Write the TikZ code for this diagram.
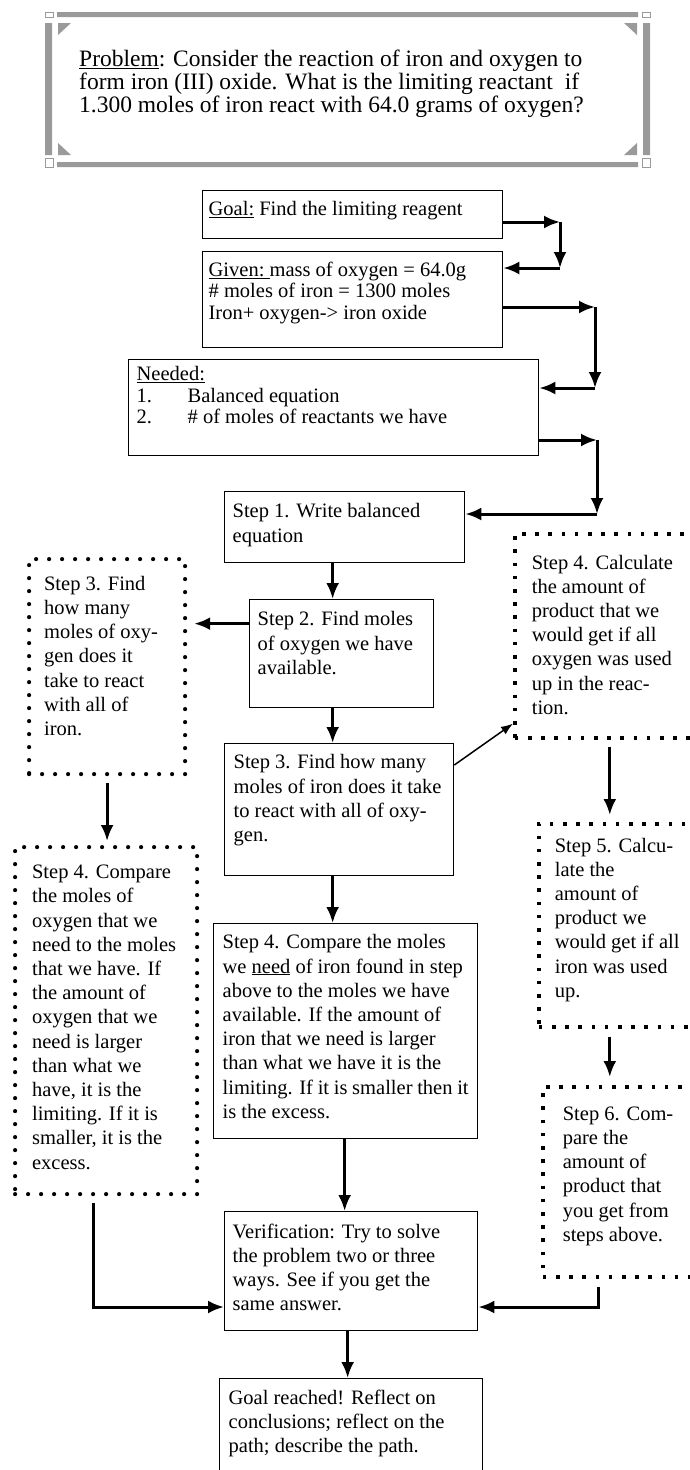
\documentclass[tikz,border=0pt]{standalone}
\usepackage{fontspec}
\setmainfont{Liberation Serif}
\usetikzlibrary{arrows.meta}
\definecolor{framegray}{HTML}{9A9A9A}
\newcommand{\cellbox}[4]{\parbox[t][#2pt][t]{#1pt}{\vspace*{#3pt}\raggedright#4}}

\begin{document}
\begin{tikzpicture}[x=1pt,y=-1pt,>={Latex[length=16pt,width=13pt]},
  every node/.style={font=\fontsize{20.5}{24.2}\selectfont},
  plainbox/.style={draw,line width=1.3pt,anchor=north west,inner xsep=8pt,inner ysep=0pt},
  topbox/.style={plainbox,inner xsep=6pt,font=\fontsize{20.5}{21.5}\selectfont},
  roundbox/.style={draw,line width=4.2pt,dash pattern=on 0pt off 13pt,line cap=round,anchor=north west,inner ysep=0pt},
  squarebox/.style={draw,line width=3.6pt,dash pattern=on 3.6pt off 9.6pt,anchor=north west,inner ysep=0pt},
  conn/.style={->,line width=3pt},
  thinconn/.style={-{Latex[length=12pt,width=9pt]},line width=1.5pt}]
\useasboundingbox (0,0) rectangle (690,1470);
\clip (0,0) rectangle (690,1470);

% problem frame
\fill[framegray] (57,12) rectangle (638,17) (57,162) rectangle (638,167) (45,23) rectangle (52,155) (643,23) rectangle (650,155);
\fill[framegray] (58,23) -- (71,23) -- (58,35) -- cycle (637,23) -- (624,23) -- (637,35) -- cycle
  (58,155) -- (71,155) -- (58,143) -- cycle (637,155) -- (624,155) -- (637,143) -- cycle;
\draw[framegray,line width=1pt] (45,12) rectangle (53,17) (642,12) rectangle (650,17) (45,158) rectangle (53,167) (642,158) rectangle (650,167);
\node[anchor=north west,inner sep=0pt,font=\fontsize{23.5}{23}\selectfont] (problem) at (79,50) {\cellbox{570}{100}{0}{\underline{Problem}: Consider the reaction of iron and oxygen to\\form iron (III) oxide. What is the limiting reactant\ \ if\\1.300 moles of iron react with 64.0 grams of oxygen?}};

% goal, given, needed
\node[topbox] (goal) at (202,190) {\cellbox{288}{48}{11}{\underline{Goal:} Find the limiting reagent}};
\node[topbox] (given) at (202,251) {\cellbox{288}{96}{10}{\underline{Given:\ }mass of oxygen = 64.0g\\\# moles of iron = 1300 moles\\Iron+ oxygen-> iron oxide}};
\node[topbox,inner xsep=8pt] (needed) at (128,359) {\cellbox{394}{96}{7}{\underline{Needed:}\\\makebox[51pt][l]{1.}Balanced equation\\\makebox[51pt][l]{2.}\# of moles of reactants we have}};

% middle column
\node[plainbox] (step1) at (224,491) {\cellbox{224}{71}{12}{Step 1. Write balanced\\equation}};
\node[plainbox] (step2) at (249,599) {\cellbox{168}{108}{12}{Step 2. Find moles\\of oxygen we have\\available.}};
\node[plainbox,inner xsep=9pt] (mstep3) at (224,743) {\cellbox{211}{132}{11}{Step 3. Find how many\\moles of iron does it take\\to react with all of oxy-\\gen.}};
\node[plainbox,inner xsep=9pt] (mstep4) at (213,923) {\cellbox{246}{215}{11}{Step 4. Compare the moles\\we \underline{need} of iron found in step\\above to the moles we have\\available. If the amount of\\iron that we need is larger\\than what we have it is the\\limiting. If it is smaller then it\\is the excess.}};
\node[plainbox] (verif) at (224,1211) {\cellbox{237}{119}{12}{Verification: Try to solve\\the problem two or three\\ways. See if you get the\\same answer.}};
\node[plainbox,inner xsep=9pt] (reached) at (219,1378) {\cellbox{245}{120}{11}{Goal reached! Reflect on\\conclusions; reflect on the\\path; describe the path.}};

% side columns
\node[roundbox,inner xsep=15pt] (lstep3) at (27,557) {\cellbox{126}{215}{17}{Step 3. Find\\how many\\moles of oxy-\\gen does it\\take to react\\with all of\\iron.}};
\node[roundbox,inner xsep=17pt] (lstep4) at (13,845) {\cellbox{148}{347}{18}{Step 4. Compare\\the moles of\\oxygen that we\\need to the moles\\that we have. If\\the amount of\\oxygen that we\\need is larger\\than what we\\have, it is the\\limiting. If it is\\smaller, it is the\\excess.}};
\node[squarebox,inner xsep=17pt] (rstep4) at (513,532) {\cellbox{173}{204}{21}{Step 4. Calculate\\the amount of\\product that we\\would get if all\\oxygen was used\\up in the reac-\\tion.}};
\node[squarebox,inner xsep=16pt] (rstep5) at (537,822) {\cellbox{151}{203}{14}{Step 5. Calcu-\\late the\\amount of\\product we\\would get if all\\iron was used\\up.}};
\node[squarebox,inner xsep=20pt] (rstep6) at (541,1085) {\cellbox{139}{190}{20}{Step 6. Com-\\pare the\\amount of\\product that\\you get from\\steps above.}};

% connectors
\coordinate (c1) at (560,222); \coordinate (c2) at (560,268);
\coordinate (c3) at (595,307); \coordinate (c4) at (595,388);
\coordinate (c5) at (597,440); \coordinate (c6) at (597,514);
\coordinate (c7) at (598,1307); \coordinate (c8) at (93,1307);
\draw[conn] (goal.east |- c1) -- (c1); \draw[conn] (c1) -- (c2); \draw[conn] (c2) -- (given.east |- c2);
\draw[conn] (given.east |- c3) -- (c3); \draw[conn] (c3) -- (c4); \draw[conn] (c4) -- (needed.east |- c4);
\draw[conn] (needed.east |- c5) -- (c5); \draw[conn] (c5) -- (c6); \draw[conn] (c6) -- (step1.east |- c6);
\draw[conn] ([xshift=-12pt]step1.south) -- ([xshift=-12pt]step1.south |- step2.north);
\draw[conn,shorten >=7pt] ([yshift=30pt]step2.west) -- ([yshift=30pt]step2.west -| lstep3.east);
\draw[conn] ([xshift=-9pt]step2.south) -- ([xshift=-9pt]step2.south |- mstep3.north);
\draw[thinconn] ([yshift=-22pt]mstep3.north east) -- ([yshift=16pt]rstep4.south west);
\draw[conn] ([xshift=-6.5pt]mstep3.south) -- ([xshift=-6.5pt]mstep3.south |- mstep4.north);
\draw[conn,shorten <=7pt,shorten >=4pt] (lstep3.south) -- (lstep3.south |- lstep4.north);
\draw[conn,shorten <=7pt,shorten >=7pt] ([xshift=-8.5pt]rstep4.south) -- ([xshift=-8.5pt]rstep4.south |- rstep5.north);
\draw[conn,shorten <=8pt,shorten >=8pt] ([xshift=-20.5pt]rstep5.south) -- ([xshift=-20.5pt]rstep5.south |- rstep6.north);
\draw[conn] ([xshift=-1pt]mstep4.south) -- ([xshift=-1pt]mstep4.south |- verif.north);
\draw[conn,shorten <=7pt] (lstep4.south -| c8) -- (c8) -- (c8 -| verif.west);
\draw[conn,shorten <=8pt] (rstep6.south -| c7) -- (c7) -- (c7 -| verif.east);
\draw[conn] ([xshift=-3.5pt]verif.south) -- ([xshift=-3.5pt]verif.south |- reached.north);
\end{tikzpicture}
\end{document}
